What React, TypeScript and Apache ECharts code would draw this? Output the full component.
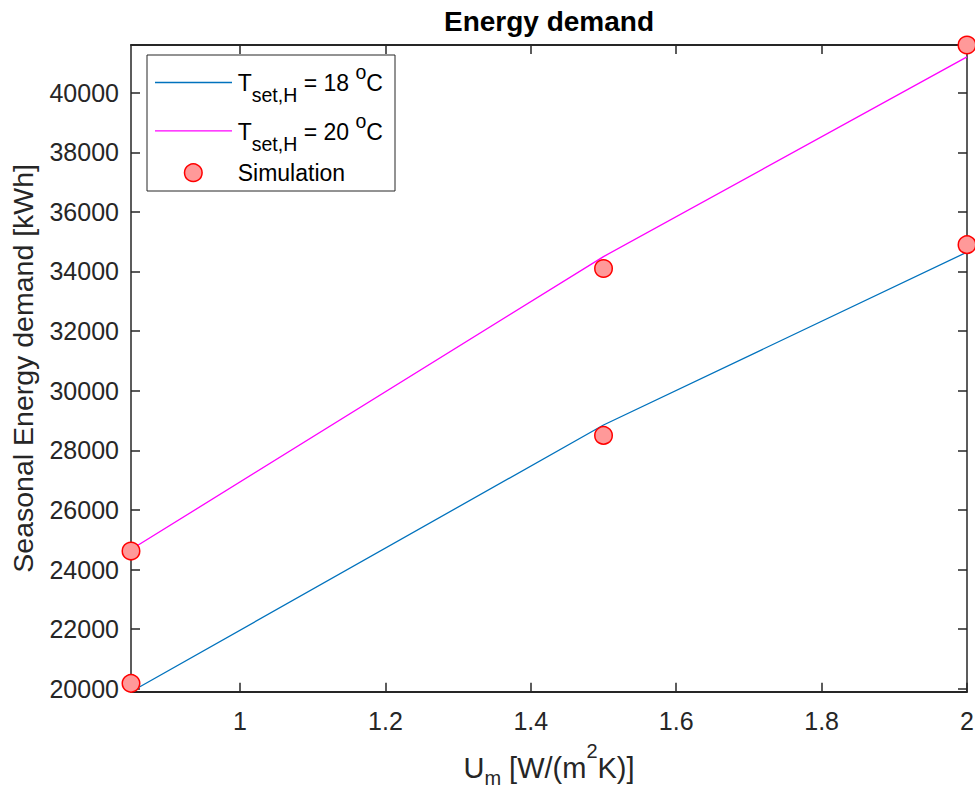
import React, { useEffect, useRef } from "react";
import * as echarts from "echarts";

const xMin = 0.85;
const xMax = 2;
const yMin = 19900;
const yMax = 41600;
const xTicks = [1, 1.2, 1.4, 1.6, 1.8, 2];
const yTicks = [20000, 22000, 24000, 26000, 28000, 30000, 32000, 34000, 36000, 38000, 40000];

const uValues = [0.85, 1.5, 2];
const fit18 = [19900, 28850, 34650];
const fit20 = [24670, 34500, 41200];

const simU = [0.85, 0.85, 1.5, 1.5, 2, 2];
const simE = [20180, 24620, 28500, 34100, 34900, 41600];

const FONT = "'Liberation Sans', Arial, Helvetica, sans-serif";
const AX = "#262626";
const BLUE = "#0072BD";
const MAGENTA = "#FF00FF";

export default function App() {
  const ref = useRef<HTMLDivElement>(null);
  useEffect(() => {
    if (!ref.current) return;
    const chart = echarts.init(ref.current, null, { renderer: "svg" });

    const lineStyleX = { color: AX, width: 2 };
    const lineStyleY = { color: AX, width: 1.5 };

    const legendRich = () => ({
      m: { fontSize: 23, fontFamily: FONT, color: "#000", lineHeight: 48 },
      s: { fontSize: 19.5, fontFamily: FONT, color: "#000", verticalAlign: "bottom", padding: [0, 0, 2, 0] },
      p: { fontSize: 19.5, fontFamily: FONT, color: "#000", verticalAlign: "top", padding: [3, 0, 0, 0] },
    });

    const option: any = {
      animation: false,
      backgroundColor: "#fff",
      title: {
        text: "Energy demand",
        left: 549,
        top: 7.5,
        textAlign: "center",
        padding: 0,
        textStyle: { fontFamily: FONT, fontSize: 28, fontWeight: "bold", color: "#000" },
      },
      grid: { left: 131, right: 8, top: 45, bottom: 97.3, containLabel: false, outerBoundsMode: "none" },
      xAxis: [
        {
          type: "value",
          min: xMin,
          max: xMax,
          position: "bottom",
          axisLine: { show: true, onZero: false, lineStyle: lineStyleX },
          axisTick: { show: true, inside: true, length: 9, customValues: xTicks, lineStyle: { color: AX, width: 1.5 } },
          axisLabel: {
            show: true,
            customValues: xTicks,
            margin: 16.5,
            color: AX,
            fontFamily: FONT,
            fontSize: 25,
            formatter: (v: number) => String(Math.round(v * 10) / 10),
          },
          splitLine: { show: false },
          name: "{m|U}{s|m}{m| [W/(m}{p|2}{m|K)]}",
          nameLocation: "middle",
          nameGap: 45,
          nameMoveOverlap: false,
          nameTextStyle: {
            rich: {
              m: { fontSize: 29, fontFamily: FONT, color: AX, lineHeight: 62 },
              s: { fontSize: 20, fontFamily: FONT, color: AX, verticalAlign: "bottom", padding: [0, 0, 11, 0] },
              p: { fontSize: 20, fontFamily: FONT, color: AX, verticalAlign: "top", padding: [4, 0, 0, 0] },
            },
          },
        },
        {
          type: "value",
          min: xMin,
          max: xMax,
          position: "top",
          axisLine: { show: true, onZero: false, lineStyle: lineStyleX },
          axisTick: { show: true, inside: true, length: 9, customValues: xTicks, lineStyle: { color: AX, width: 1.5 } },
          axisLabel: { show: false },
          splitLine: { show: false },
        },
      ],
      yAxis: [
        {
          type: "value",
          min: yMin,
          max: yMax,
          position: "left",
          axisLine: { show: true, onZero: false, lineStyle: lineStyleY },
          axisTick: { show: true, inside: true, length: 9, customValues: yTicks, lineStyle: { color: AX, width: 1.5 } },
          axisLabel: {
            show: true,
            customValues: yTicks,
            margin: 12,
            color: AX,
            fontFamily: FONT,
            fontSize: 25,
            formatter: (v: number) => String(v),
          },
          splitLine: { show: false },
          name: "Seasonal Energy demand [kWh]",
          nameLocation: "middle",
          nameGap: 94,
          nameMoveOverlap: false,
          nameTextStyle: { fontFamily: FONT, fontSize: 28.5, color: AX },
        },
        {
          type: "value",
          min: yMin,
          max: yMax,
          position: "right",
          axisLine: { show: true, onZero: false, lineStyle: lineStyleY },
          axisTick: { show: true, inside: true, length: 9, customValues: yTicks, lineStyle: { color: AX, width: 1.5 } },
          axisLabel: { show: false },
          splitLine: { show: false },
        },
      ],
      series: [
        {
          name: "T18",
          type: "line",
          xAxisIndex: 0,
          yAxisIndex: 0,
          data: uValues.map((u, i) => [u, fit18[i]]),
          showSymbol: false,
          symbol: "none",
          lineStyle: { color: BLUE, width: 1.3 },
          itemStyle: { color: BLUE },
          clip: false,
          z: 2,
        },
        {
          name: "T20",
          type: "line",
          xAxisIndex: 0,
          yAxisIndex: 0,
          data: uValues.map((u, i) => [u, fit20[i]]),
          showSymbol: false,
          symbol: "none",
          lineStyle: { color: MAGENTA, width: 1.3 },
          itemStyle: { color: MAGENTA },
          clip: false,
          z: 2,
        },
        {
          name: "Simulation",
          type: "scatter",
          xAxisIndex: 0,
          yAxisIndex: 0,
          data: simU.map((u, i) => [u, simE[i]]),
          symbol: "circle",
          symbolSize: 17.5,
          itemStyle: { color: "#FF9999", borderColor: "#FF0000", borderWidth: 1.5, opacity: 1 },
          clip: false,
          z: 5,
        },
      ],
      graphic: [
        {
          type: "group",
          z: 100,
          children: [
            {
              type: "rect",
              shape: { x: 147, y: 55, width: 248, height: 136 },
              style: { fill: "#fff", stroke: AX, lineWidth: 1 },
            },
            {
              type: "line",
              shape: { x1: 155, y1: 82.5, x2: 232, y2: 82.5 },
              style: { stroke: BLUE, lineWidth: 1.3 },
            },
            {
              type: "line",
              shape: { x1: 155, y1: 130.8, x2: 232, y2: 130.8 },
              style: { stroke: MAGENTA, lineWidth: 1.3 },
            },
            {
              type: "circle",
              shape: { cx: 193.3, cy: 172.7, r: 8.8 },
              style: { fill: "#FF9999", stroke: "#FF0000", lineWidth: 1.5 },
            },
            {
              type: "text",
              style: {
                x: 237.7,
                y: 83.3,
                text: "{m|T}{s|set,H}{m| = 18 }{p|o}{m|C}",
                verticalAlign: "middle",
                align: "left",
                rich: legendRich(),
              },
            },
            {
              type: "text",
              style: {
                x: 237.7,
                y: 131.7,
                text: "{m|T}{s|set,H}{m| = 20 }{p|o}{m|C}",
                verticalAlign: "middle",
                align: "left",
                rich: legendRich(),
              },
            },
            {
              type: "text",
              style: {
                x: 237.7,
                y: 172.8,
                text: "Simulation",
                verticalAlign: "middle",
                align: "left",
                fontSize: 23,
                fontFamily: FONT,
                fill: "#000",
              },
            },
          ],
        },
      ],
    };

    chart.setOption(option);
    return () => chart.dispose();
  }, []);

  return (
    <div
      ref={ref}
      style={{ position: "absolute", left: 0, top: 0, width: 975, height: 789, background: "#fff" }}
    />
  );
}
